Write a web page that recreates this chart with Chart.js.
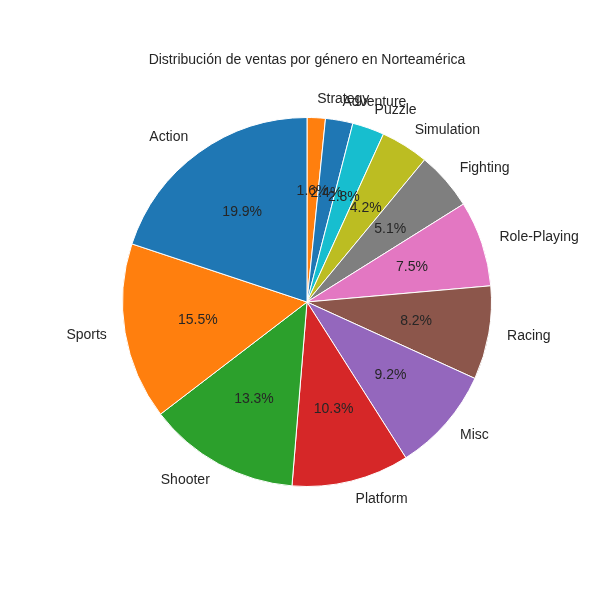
<!DOCTYPE html>
<html>
<head>
<meta charset="utf-8">
<script src="https://cdn.jsdelivr.net/npm/chart.js@4"></script>
<style>
  html, body { margin: 0; padding: 0; background: #fff; }
  #wrap { width: 600px; height: 600px; }
</style>
</head>
<body>
<div id="wrap"><canvas id="pie" width="600" height="600"></canvas></div>
<script>
// genres in matplotlib order (counter-clockwise from 12 o'clock)
const genres = ["Action", "Sports", "Shooter", "Platform", "Misc", "Racing",
  "Role-Playing", "Fighting", "Simulation", "Puzzle", "Adventure", "Strategy"];
const shares = [19.9, 15.5, 13.3, 10.3, 9.2, 8.2, 7.5, 5.1, 4.2, 2.8, 2.4, 1.6];
const colors = ["#1f77b4", "#ff7f0e", "#2ca02c", "#d62728", "#9467bd", "#8c564b",
  "#e377c2", "#7f7f7f", "#bcbd22", "#17becf", "#1f77b4", "#ff7f0e"];
const titleText = "Distribución de ventas por género en Norteamérica";

// Chart.js goes clockwise, so feed it reversed
const labels = genres.slice().reverse();
const values = shares.slice().reverse();
const bg = colors.slice().reverse();

const FONT = '"Liberation Sans", Arial, sans-serif';
const INK = "#262626";

const pieLabels = {
  id: "pieLabels",
  afterDraw(chart) {
    const ctx = chart.ctx;
    ctx.save();
    ctx.fillStyle = INK;
    ctx.font = "14px " + FONT;
    ctx.textAlign = "center";
    ctx.textBaseline = "middle";
    ctx.fillText(titleText, 307, 60);

    const meta = chart.getDatasetMeta(0);
    meta.data.forEach((arc, i) => {
      const mid = (arc.startAngle + arc.endAngle) / 2;
      const r = arc.outerRadius;
      const c = Math.cos(mid), s = Math.sin(mid);
      ctx.font = "14px " + FONT;
      ctx.textBaseline = "middle";
      ctx.textAlign = Math.abs(c) < 1e-6 ? "center" : (c > 0 ? "left" : "right");
      ctx.fillText(labels[i], arc.x + 1.1 * r * c, arc.y + 1.1 * r * s);
      ctx.textAlign = "center";
      ctx.fillText(values[i].toFixed(1) + "%", arc.x + 0.6 * r * c, arc.y + 0.6 * r * s);
    });
    ctx.restore();
  }
};

new Chart(document.getElementById("pie"), {
  type: "pie",
  data: {
    labels,
    datasets: [{ data: values, backgroundColor: bg, borderColor: "#ffffff", borderWidth: 1 }]
  },
  options: {
    responsive: false,
    animation: false,
    layout: { padding: { left: 122, right: 108, top: 117, bottom: 113 } },
    plugins: { legend: { display: false }, tooltip: { enabled: false }, title: { display: false } }
  },
  plugins: [pieLabels]
});
</script>
</body>
</html>
